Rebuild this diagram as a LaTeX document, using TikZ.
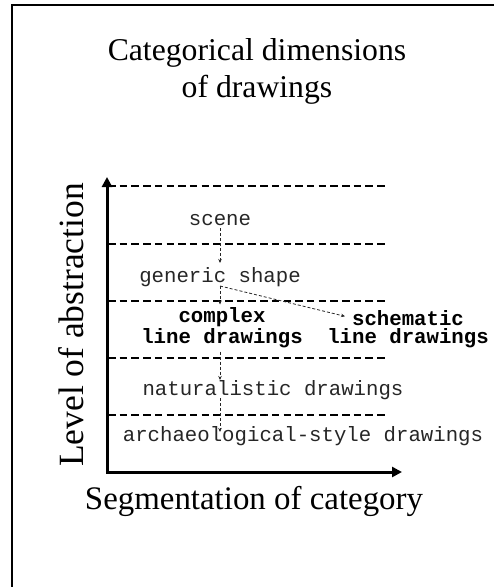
\documentclass[tikz,border=0pt]{standalone}
\usepackage{fontspec}
\setmainfont{Liberation Serif}
\setmonofont{Liberation Mono}
\usetikzlibrary{arrows.meta,calc}
\begin{document}
\begin{tikzpicture}[x=1pt,y=-1pt,
  serif/.style={font=\fontsize{32}{36}\selectfont, anchor=base, inner sep=0},
  mono/.style={font=\ttfamily\fontsize{20.7}{17.5}\selectfont, text=black!85, anchor=base, inner sep=0},
  monobold/.style={mono, align=center, font=\ttfamily\bfseries\fontsize{20.7}{17.5}\selectfont, text=black},
  level/.style={draw=black, line width=1.6pt, dash pattern=on 7.5pt off 4.2pt},
  conn/.style={draw=black!85, line width=0.8pt, dash pattern=on 3pt off 2pt, -{Stealth[length=4pt,width=3.5pt]}},
  axis/.style={line width=3pt, {Triangle[length=10pt,width=10pt]}-{Triangle[length=10pt,width=10pt]}}]
\useasboundingbox (0,0) rectangle (494,587);
\draw[line width=2.2pt] (11.7,587) -- (11.7,5) -- (494,5);

% titles and axis labels
\node[serif, font=\fontsize{31.7}{36}\selectfont] (t1) at (257,60) {Categorical dimensions};
\node[serif, font=\fontsize{31.7}{36}\selectfont] (t2) at (257,97) {of drawings};
\node[serif, rotate=90, font=\fontsize{35.5}{36}\selectfont] (ylab) at (83,325) {Level of abstraction};
\node[serif, font=\fontsize{32.9}{36}\selectfont] (xlab) at (254,509) {Segmentation of category};

% level separators
\foreach \y in {186,244,301,358,415} \draw[level] (108,\y) -- (385,\y);

% axes
\draw[axis] (107,177) -- (107,472) -- (402,472);

% categories (base anchor of a two-line node = last line's baseline)
\node[mono] (scene) at (220,225) {scene};
\node[mono] (generic) at (220,282) {generic shape};
\node[monobold] (complex) at (222,343) {complex\\line drawings};
\node[monobold] (schem) at (408,343) {schematic\\line drawings};
\node[mono] (natural) at (273,395) {naturalistic drawings};
\node[mono] (arch) at (303,441) {archaeological-style drawings};

% connectors
\draw[conn] ($(scene.base)+(0,3)$) -- ($(generic.base)+(0,-19)$);
\draw[conn] ($(generic.base)+(0,4)$) -- ($(complex.north -| generic.base)+(0,-3)$);
\draw[conn] ($(generic.base)+(0,4)$) -- ($(schem.north)+(-63,6)$);
\draw[conn] ($(complex.south -| generic.base)+(0,4)$) -- ($(natural.base -| generic.base)+(0,-15)$);
\draw[conn] ($(natural.base -| generic.base)+(0,3)$) -- ($(arch.base -| generic.base)+(0,-9)$);
\end{tikzpicture}
\end{document}
